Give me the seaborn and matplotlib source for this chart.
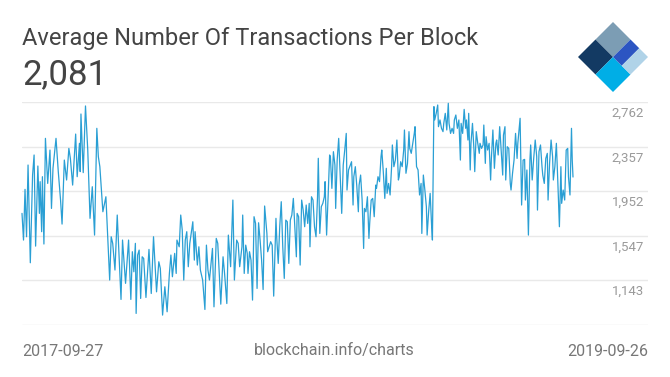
import pandas as pd
import matplotlib.pyplot as plt
import seaborn as sns
from matplotlib.patches import Polygon

# chart text
title = 'Average Number Of Transactions Per Block'
latest_value = '2,081'
source = 'blockchain.info/charts'
start_date = '2017-09-27'
end_date = '2019-09-26'

# horizontal grid lines (bottom one has no label)
grid_values = [738, 1143, 1547, 1952, 2357, 2762]
tick_labels = ['1,143', '1,547', '1,952', '2,357', '2,762']

# days since start_date
day_offsets = [
    0, 2, 4, 6, 8, 11, 14, 16, 18, 21, 23, 24, 26, 27, 29, 31, 34, 37, 39, 41,
    45, 48, 51, 53, 56, 59, 62, 64, 67, 71, 73, 76, 77, 78, 81, 84, 87, 90, 93, 96,
    99, 101, 103, 107, 111, 116, 118, 120, 123, 126, 131, 133, 137, 141, 144,
    146, 148, 150, 151, 153, 155, 157, 159, 161, 164, 166, 168, 171, 174, 176,
    178, 181, 183, 186, 189, 192, 195, 197, 199, 202, 204, 205, 208, 210, 212,
    214, 216, 218, 220, 222, 226, 228, 229, 232, 234, 236, 239, 242, 244, 246,
    248, 252, 254, 257, 259, 261, 263, 266, 268, 271, 273, 276, 279, 281, 284,
    286, 288, 291,
    292, 294, 296, 298, 299, 301, 303, 305, 307, 309, 311, 313, 315, 317, 319,
    321, 324, 325, 327, 329, 331, 333, 336, 337, 339, 341, 343, 345, 347, 349,
    351, 353, 355, 357, 359, 361, 363, 364, 366, 368, 370, 372, 374, 376, 378,
    380, 381, 383, 385, 387, 389, 391, 392, 394, 396, 398, 400, 401, 403, 405,
    407, 408, 410, 412, 414, 415, 417, 419, 421, 423, 425, 427, 429, 430, 432,
    436, 438, 439, 441, 443, 445, 446, 448, 450, 452, 453, 455, 457, 459, 460,
    462, 464, 466, 468, 469, 471, 473, 475, 476, 478, 480, 482, 483, 485, 487,
    489, 490, 492, 494, 496, 498, 499, 501, 503, 505, 506, 508, 510, 512, 513,
    515, 517, 519, 520, 522, 524, 526, 528, 529, 531, 533, 535, 536, 538, 540,
    542, 543, 545, 546, 548, 550, 551, 553, 555, 557, 558, 560, 562, 564, 565,
    567, 569, 571, 572, 574, 576, 578,
    580, 581, 583, 585, 587, 588, 590, 591, 593, 594, 596, 598, 599, 601, 603,
    605, 606, 608, 610, 611, 613, 614, 616, 618, 620, 621, 623, 625, 627, 628,
    630, 632, 634, 636, 637, 639, 640, 642, 644, 646, 647, 649, 651, 653, 655,
    656, 658, 659, 661, 663, 665, 666, 668, 670, 672, 673, 675, 677, 679, 681,
    682, 684, 686, 688, 689, 691, 693, 695, 696, 698, 700, 702, 703, 705, 707,
    709, 711, 713, 714, 716, 718, 720, 722, 723, 725, 727, 728, 729,
]

tx_per_block = [
    1751, 1509, 1969, 1539, 2190, 1303, 2099, 2281, 1454, 2181, 1751, 2039, 1585, 2084, 1473, 2432, 2023, 2326, 1796, 2160,
    2432, 2130, 1872, 1654, 2235, 2054, 2341, 2250, 2008, 2471, 2084, 2387, 2130, 2653, 2121, 2726, 2326, 1706, 1993, 1554,
    2523, 2266, 2175, 1766, 1902, 1146, 1539, 1479, 1237, 1736, 970, 1509, 1116, 1509, 970,
    1403, 1221, 1479, 843, 1373, 1418, 979, 1357, 1342, 988, 1206, 1424, 1024, 1539, 1297,
    1039, 1312, 1252, 828, 1085, 858, 1206, 1373, 1176, 1388, 1206, 1509, 1448, 1736, 1600,
    1146, 1509, 1585, 1267, 1479, 1675, 1327, 1585, 1282, 1448, 1237, 1146, 879, 1463, 1237,
    1146, 1433, 903, 1524, 1479, 1206, 927, 1357, 1206, 933, 1554, 1267, 1872, 1146, 1509,
    1479, 1267, 1448,
    1736, 1206, 1463, 1388, 1206, 1403, 1327, 964, 1721, 1660, 1070, 1666, 1509, 1327, 1060,
    1818, 1569, 1403, 1448, 1494, 1463, 1000, 1706, 1533, 1297, 1630, 1857, 1448, 1161, 1690,
    1675, 1297, 1690, 1736, 1887, 1630, 1357, 1751, 1721, 1282, 1872, 1781, 1630, 1827, 1660,
    1842, 1448, 1902, 1872, 1630, 1539, 1902, 2251, 1569, 1812, 1842, 1902, 2039, 1554, 1902,
    2281, 2266, 1978, 2311, 2190, 1796, 2235, 2432, 2084, 1751, 2190, 2326, 2477, 1963, 2145,
    2220, 1827, 2084, 2175, 1993, 1766, 2008, 2099, 1872, 1433, 1796, 1766, 1902, 1524, 1660,
    1872, 1887, 1721, 2008, 1978, 2084, 2039, 2266, 2326, 2130, 1887, 2160, 1933, 2023, 1918,
    2175, 2372, 2175, 2235, 2417, 2054, 2084, 2220, 2175, 2326, 2508, 2115, 2205, 2493, 2341,
    2296, 2387, 2477, 2538, 2175, 2145, 1918, 2023, 1569, 2099, 1963, 1812, 1554, 1766, 1933,
    1630, 1509, 2720, 2599, 2659, 2735, 2538, 2599, 2523, 2493, 2568, 2659, 2508, 2750, 2568,
    2477, 2523, 2477, 2599, 2644, 2523, 2599,
    2235, 2568, 2477, 2695, 2523, 2599, 2417, 2659, 2145, 2387, 2568, 2326, 2130, 2493, 2387,
    2296, 2387, 2341, 2372, 2553, 2205, 2447, 2326, 2387, 2054, 2250, 2508, 2160, 2387, 2417,
    2281, 2538, 2311, 2099, 2462, 2538, 2054, 2356, 2341, 2023, 1963, 2115, 2235, 2477, 2250,
    2387, 2538, 2614, 1827, 2235, 2241, 1872, 2145, 1554, 2235, 2372, 2054, 2250, 2417, 2266,
    1781, 2311, 2372, 2175, 2099, 2023, 2250, 2296, 1872, 2205, 2417, 2266, 2054, 2175, 2387,
    2023, 1630, 2175, 1842, 1963, 1872, 2326, 2341, 2084, 1918, 2523, 2235, 2081,
]

sns.set_style('white')
plt.rcParams['font.family'] = ['Roboto', 'DejaVu Sans']

start = pd.Timestamp(start_date)
df = pd.DataFrame({
    'date': start + pd.to_timedelta(day_offsets, unit='D'),
    'tx': tx_per_block,
})

W, H = 670, 377
fig = plt.figure(figsize=(W / 100, H / 100), dpi=100)
ax = fig.add_axes([22 / W, 52 / H, 626 / W, 223 / H])

sns.lineplot(data=df, x='date', y='tx', ax=ax, color='#2a9fd4',
             linewidth=0.9, clip_on=False, zorder=3)

span = pd.Timestamp(end_date) - start
ax.set_xlim(start, start + span * 626 / 551)
ax.set_ylim(grid_values[0], grid_values[-1])
ax.set_yticks(grid_values)
ax.set_xticks([])
ax.grid(axis='y', color='#e9e9e9', linewidth=1)
ax.tick_params(left=False, labelleft=False, bottom=False, labelbottom=False)
ax.set_xlabel('')
ax.set_ylabel('')
sns.despine(ax=ax, left=True, bottom=True)

for v, lab in zip(grid_values[1:], tick_labels):
    ax.annotate(lab, xy=(1, v), xycoords=('axes fraction', 'data'),
                xytext=(-3, -3.5), textcoords='offset points',
                ha='right', va='top', fontsize=9.5, color='#9a9a9a')

fig.text(22 / W, 1 - 38 / H, title, fontsize=17, color='#444444', va='center')
fig.text(22 / W, 1 - 75 / H, latest_value, fontsize=25, color='#444444', va='center')

fig.text(22 / W, 1 - 351 / H, start_date, fontsize=11.5, color='#777777', va='center')
fig.text(334 / W, 1 - 351 / H, source, fontsize=11.5, color='#777777',
         va='center', ha='center')
fig.text(648 / W, 1 - 351 / H, end_date, fontsize=11.5, color='#777777',
         va='center', ha='right')

# logo: diamond made of squares, (a, b) grid rotated 45 degrees
lax = fig.add_axes([578 / W, 1 - 92 / H, 70 / W, 70 / H])
lax.set_xlim(-2, 2)
lax.set_ylim(-4, 0)
lax.axis('off')


def tile(a0, a1, b0, b1, color):
    pts = [(a0, b0), (a1, b0), (a1, b1), (a0, b1)]
    lax.add_patch(Polygon([(a - b, -(a + b)) for a, b in pts],
                          closed=True, color=color, lw=0))


tile(0, 1, 0, 1, '#7c9db4')
tile(0, 1, 1, 2, '#133a63')
tile(1, 2, 1, 2, '#00aee6')
tile(1, 1.5, 0, 1, '#2c55c2')
tile(1.5, 2, 0, 1, '#b0d3e8')

fig.savefig('out.png', dpi=100)
